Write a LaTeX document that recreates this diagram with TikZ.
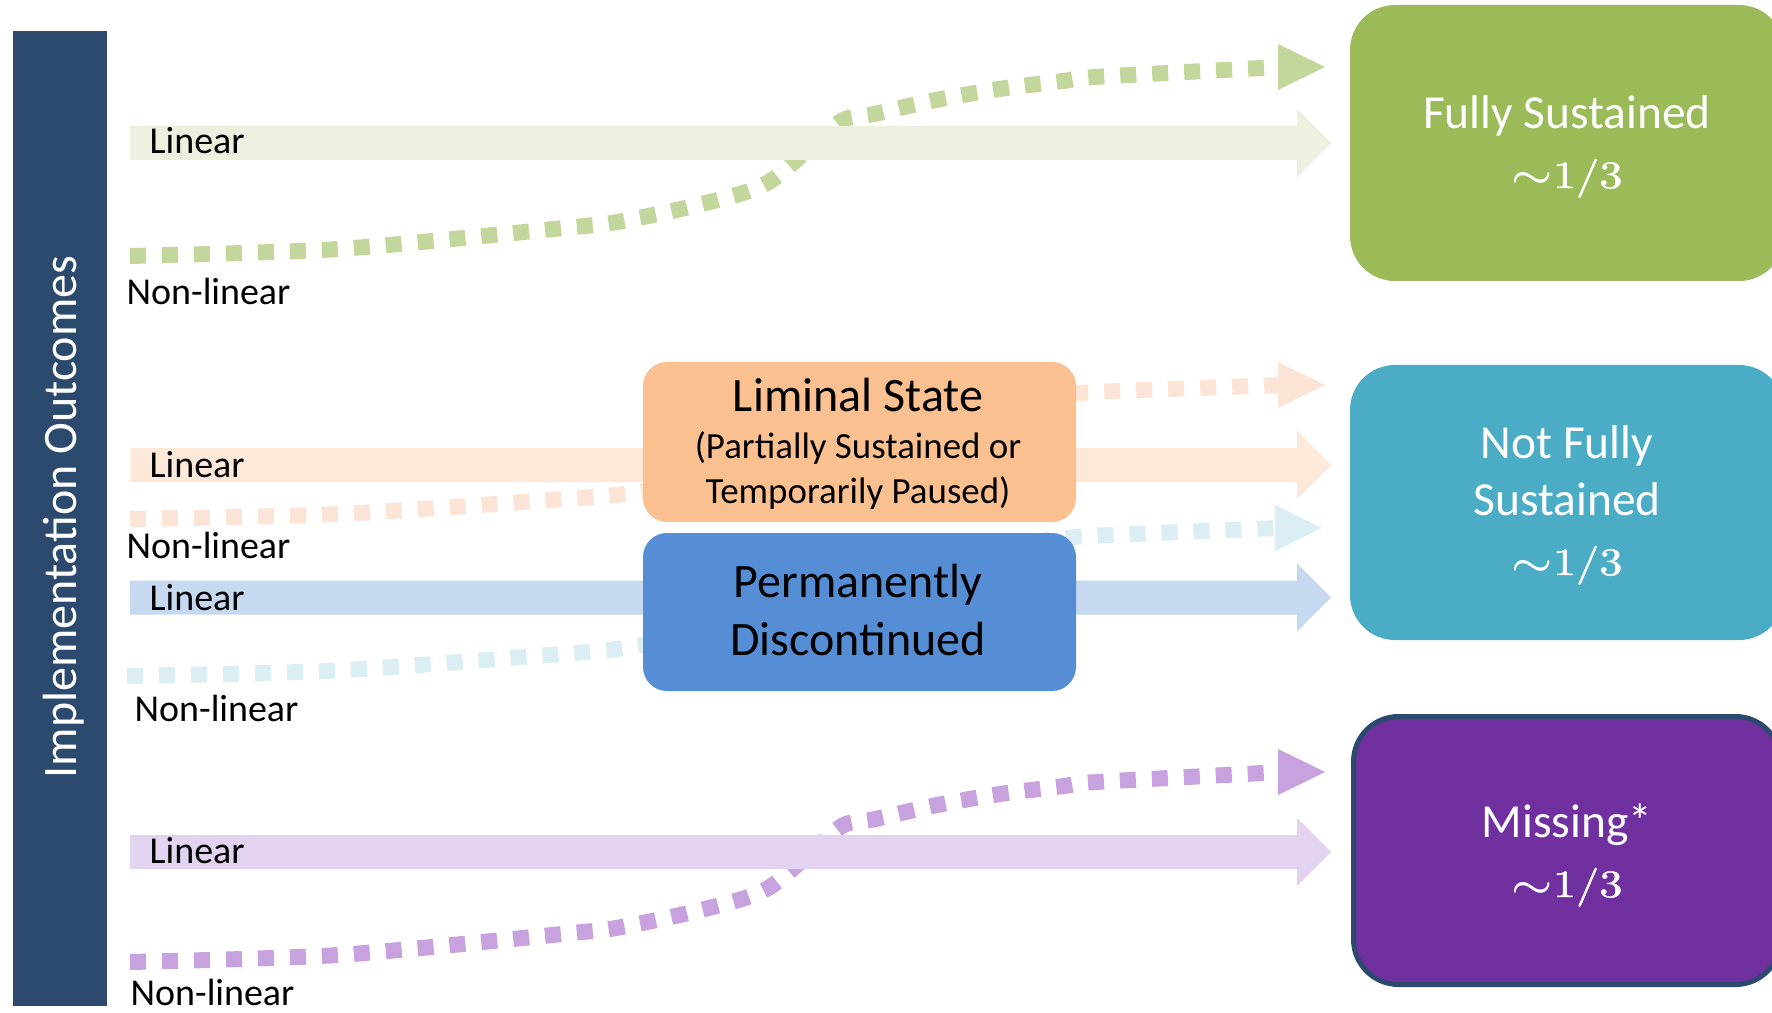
\documentclass[tikz,border=0pt]{standalone}
\usepackage{fontspec}
\usepackage{graphicx}
\usepackage{bm}
\usetikzlibrary{calc}
\newfontfamily\carl{Carlito}
\newfontfamily\fracdigits[FakeBold=1.2]{Latin Modern Roman}

\definecolor{barblue}{HTML}{2C4A6E}
\definecolor{gband}{HTML}{EBF1DE}
\definecolor{gdash}{HTML}{C3D69B}
\definecolor{gbox}{HTML}{9BBB59}
\definecolor{oband}{HTML}{FDE9D9}
\definecolor{odash}{HTML}{FCE4D6}
\definecolor{limbox}{HTML}{FAC090}
\definecolor{bband}{HTML}{C6D9F1}
\definecolor{cdash}{HTML}{DBEEF4}
\definecolor{permbox}{HTML}{558ED5}
\definecolor{nfbox}{HTML}{4BACC6}
\definecolor{pband}{HTML}{E2D3F1}
\definecolor{pdash}{HTML}{C8A2DE}
\definecolor{misbox}{HTML}{7030A0}

% straight "linear" band with a broad arrow head: colour, start, tip
\newcommand\linarrow[3]{%
  \fill[#1] ($(#2)+(0,-17)$) -- ($(#3)+(-34,-17)$) -- ($(#3)+(-34,-34)$) -- (#3)
    -- ($(#3)+(-34,34)$) -- ($(#3)+(-34,17)$) -- ($(#2)+(0,17)$) -- cycle;}

% dotted "non-linear" S-curve with a triangular head: colour, start, end, vertical scale
\newcommand\nonlin[4]{%
  \begin{scope}[shift={(#2)}, yscale=#4]
    \draw[#1, line width=1.6mm, dash pattern=on 1.6mm off 1.6mm]
      plot[smooth, tension=0.45] coordinates {(0,0) (209,-7) (444,-29) (487,-34)
        (551,-47) (613,-63) (642,-76) (680,-108) (713,-136) (744,-142) (806,-156)
        (869,-167) (933,-175) (965,-179) (1132,-188) (1150,-189)};
  \end{scope}
  \fill[#1] ($(#3)+(-2,-23)$) -- ($(#3)+(45,0)$) -- ($(#3)+(-2,23)$) -- cycle;}

% approximate share shown in the outcome boxes
\newcommand\third{\scalebox{1.2}[1]{$\bm{\sim}$\fracdigits 1/3}}

\begin{document}
\begin{tikzpicture}[x=0.1mm, y=-0.1mm,
  lbl/.style={inner sep=0pt, anchor=base west, font={\carl\fontsize{10.8}{13}\selectfont}},
  midbox/.style={rectangle, rounded corners=2.4mm, inner sep=0pt,
    minimum width=43.3mm},
  midtxt/.style={inner sep=0pt, anchor=base, font={\carl\fontsize{13.66}{16}\selectfont}},
  subtxt/.style={inner sep=0pt, anchor=base, font={\carl\fontsize{10.5}{12}\selectfont}},
  rbox/.style={rectangle, rounded corners=4.5mm, inner sep=0pt,
    minimum width=43.4mm},
  rtxt/.style={inner sep=0pt, anchor=base, text=white,
    font={\carl\fontsize{13.5}{16}\selectfont}},
  frac/.style={inner sep=0pt, anchor=base, text=white,
    font={\fontsize{11}{13}\selectfont}}]

\useasboundingbox (0,0) rectangle (1772,1013);
\fill[white] (0,0) rectangle (1772,1013);
\clip (0,0) rectangle (1772,1013);

% side bar
\node[rectangle, fill=barblue, inner sep=0pt, minimum width=9.4mm,
  minimum height=97.5mm] (bar) at (60,518.5) {};
\node[rotate=90, anchor=base, inner sep=0pt, text=white,
  font={\carl\fontsize{13.66}{16}\selectfont}] (bartext) at (76,517)
  {Implementation Outcomes};

% anchor points of the paths
\coordinate (gS) at (130,143);   \coordinate (gT) at (1331,143);
\coordinate (oS) at (130,465);   \coordinate (oT) at (1331,465);
\coordinate (bS) at (130,597.5); \coordinate (bT) at (1331,597.5);
\coordinate (pS) at (130,852);   \coordinate (pT) at (1331,852);
\coordinate (gnS) at (130,256);  \coordinate (gnE) at (1280,67);
\coordinate (onS) at (130,519);  \coordinate (onE) at (1280,385);
\coordinate (cnS) at (127,676);  \coordinate (cnE) at (1277,528);
\coordinate (pnS) at (130,962);  \coordinate (pnE) at (1280,772);

% non-linear trajectories
\nonlin{gdash}{gnS}{gnE}{1}
\nonlin{odash}{onS}{onE}{0.709}
\nonlin{cdash}{cnS}{cnE}{0.783}
\nonlin{pdash}{pnS}{pnE}{1.005}

% linear trajectories
\linarrow{gband}{gS}{gT}
\linarrow{oband}{oS}{oT}
\linarrow{bband}{bS}{bT}
\linarrow{pband}{pS}{pT}

% path labels
\node[lbl] (lg) at (149,154) {Linear};
\node[lbl] (ng) at (126,305) {Non-linear};
\node[lbl] (lo) at (149,477) {Linear};
\node[lbl] (no) at (126,558) {Non-linear};
\node[lbl] (lb) at (149,610) {Linear};
\node[lbl] (nb) at (134,721) {Non-linear};
\node[lbl] (lp) at (149,863) {Linear};
\node[lbl] (np) at (130,1005) {Non-linear};

% intermediate states
\node[midbox, fill=limbox, minimum height=16mm] (lim) at (859.5,442) {};
\node[midtxt] (limA) at (858,412) {Liminal State};
\node[subtxt] (limB) at (858,459) {(Partially Sustained or};
\node[subtxt] (limC) at (858,503) {Temporarily Paused)};

\node[midbox, fill=permbox, minimum height=15.8mm] (perm) at (859.5,612) {};
\node[midtxt] (permA) at (858,597) {Permanently};
\node[midtxt] (permB) at (858,655) {Discontinued};

% outcomes
\node[rbox, fill=gbox, minimum height=27.6mm] (fully) at (1567,143) {};
\node[rtxt] (fullyA) at (1567,129) {Fully Sustained};
\node[frac] (fullyB) at (1567,188) {\third};

\node[rbox, fill=nfbox, minimum height=27.5mm] (notfully) at (1567,502.5) {};
\node[rtxt] (notA) at (1567,458) {Not Fully};
\node[rtxt] (notB) at (1567,515) {Sustained};
\node[frac] (notC) at (1567,575) {\third};

\node[rbox, fill=misbox, draw=barblue, line width=0.5mm, minimum width=42.7mm,
  minimum height=26.8mm] (missing) at (1567,850.5) {};
\node[rtxt] (misA) at (1567,837) {Missing*};
\node[frac] (misB) at (1567,897) {\third};

\end{tikzpicture}
\end{document}
